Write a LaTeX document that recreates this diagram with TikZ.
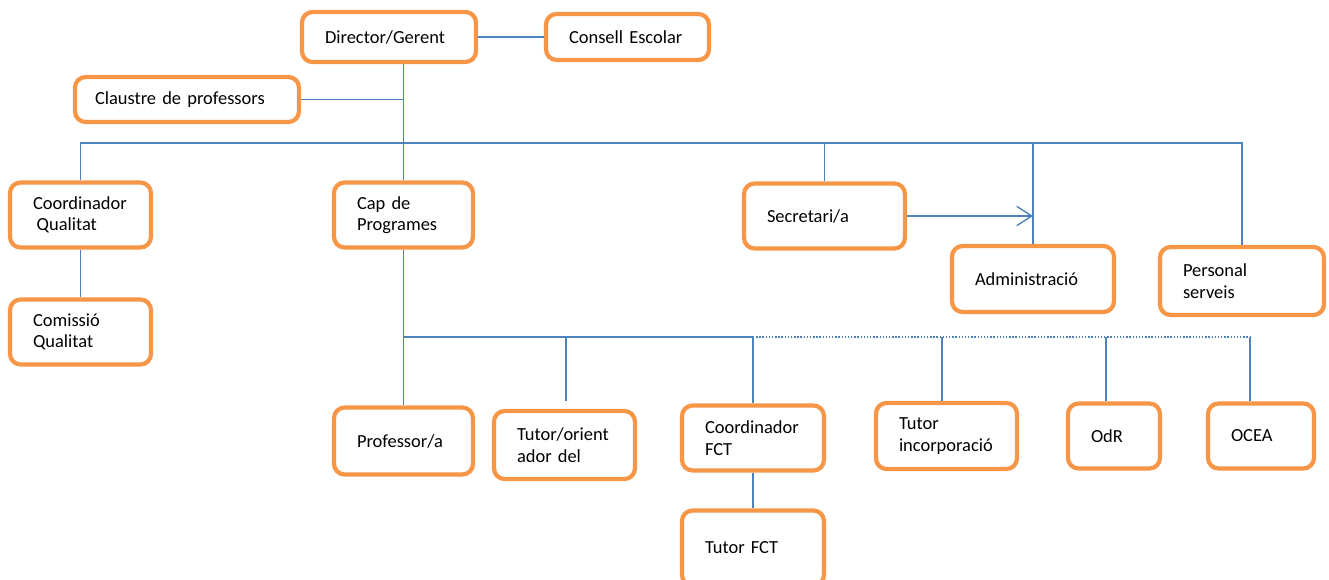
\documentclass[tikz,border=0pt]{standalone}
\usepackage{fontspec}
\setmainfont{Carlito}
\usepackage{tikz}
\usetikzlibrary{arrows.meta, calc}

\definecolor{boxorange}{RGB}{247,150,70}
\definecolor{linkblue}{RGB}{79,129,189}

\begin{document}
\begin{tikzpicture}[x=0.02cm, y=-0.02cm,
	unit/.style={draw=boxorange, line width=2.4pt, rounded corners=6pt, fill=white,
		align=left, inner xsep=0.46cm, inner ysep=0pt,
		font=\fontsize{10.5}{12.2}\selectfont},
	boxsize/.style 2 args={minimum width=#1, text width=#1-0.92cm, minimum height=#2},
	link/.style={draw=linkblue, line width=0.8pt}]
	%    page frame of the chart
	\useasboundingbox (0,0) rectangle (1329,580);
	
	% top level
	\node[unit, boxsize={3.48cm}{1.0cm}] (dir) at (389,37) {Director/Gerent};
	\node[unit, boxsize={3.26cm}{0.92cm}] (consell) at (627.5,37) {Consell Escolar};
	\node[unit, boxsize={4.48cm}{0.9cm}, inner xsep=0.4cm, text width=3.68cm] (claustre) at (187,99.5) {Claustre de professors};
	
	% second level
	\node[unit, boxsize={2.82cm}{1.3cm}] (coordq) at (80.5,215) {Coordinador\\\hspace*{0.2em}Qualitat};
	\node[unit, boxsize={2.82cm}{1.3cm}] (comq) at (80.5,332) {Comissió\\Qualitat};
	\node[unit, boxsize={2.78cm}{1.3cm}] (cap) at (403.5,215) {Cap de\\Programes};
	\node[unit, boxsize={3.22cm}{1.3cm}] (secr) at (824.5,216) {Secretari/a};
	\node[unit, boxsize={3.24cm}{1.32cm}] (admin) at (1033,279) {Administració};
	\node[unit, boxsize={3.28cm}{1.36cm}] (pers) at (1242,281) {Personal\\serveis};
	
	% programme staff
	\node[unit, boxsize={2.78cm}{1.34cm}] (prof) at (403.5,441) {Professor/a};
	\node[unit, boxsize={2.82cm}{1.36cm}] (tutor) at (564.5,445) {Tutor/orient\\ador del};
	\node[unit, boxsize={2.84cm}{1.3cm}] (cfct) at (753,438) {Coordinador\\FCT};
	\node[unit, boxsize={2.82cm}{1.32cm}] (tinc) at (946.5,436) {Tutor\\incorporació};
	\node[unit, boxsize={1.84cm}{1.3cm}] (odr) at (1114,436) {OdR};
	\node[unit, boxsize={2.12cm}{1.3cm}] (ocea) at (1261,436) {OCEA};
	\node[unit, boxsize={2.84cm}{1.5cm}] (tfct) at (753,548) {Tutor FCT};
	
	\coordinate (topbus) at (0,143);
	\coordinate (lowbus) at (0,337);
	
	% links from the director
	\draw[link] (dir.east) -- (consell.west);
	\draw[link] (dir.south -| cap.north) -- (cap.north);
	\draw[link] (claustre.east) -- (claustre.east -| cap.north);
	
	% upper bus
	\draw[link] (coordq.north) -- (coordq.north |- topbus) -- (pers.north |- topbus) -- (pers.north);
	\draw[link] (secr.north) -- (secr.north |- topbus);
	\draw[link] (admin.north) -- (admin.north |- topbus);
	\draw[link, -{Straight Barb[length=8.5pt, width=11pt]}] (secr.east) -- (secr.east -| admin.north);
	\draw[link] (coordq.south) -- (comq.north);
	
	% lower bus
	\draw[link] (cap.south) -- (cap.south |- lowbus) -- (cfct.north |- lowbus);
	\draw[link, densely dotted] (cfct.north |- lowbus) -- ($(ocea.north |- lowbus)+(-11,0)$);
	\draw[link] (prof.north) -- (prof.north |- lowbus);
	\draw[link] ([xshift=0.03cm, yshift=0.16cm]tutor.north) -- ([xshift=0.03cm]tutor.north |- lowbus);
	\draw[link] (cfct.north) -- (cfct.north |- lowbus);
	\draw[link] ([xshift=-0.09cm]tinc.north) -- ([xshift=-0.09cm]tinc.north |- lowbus);
	\draw[link] ([xshift=-0.16cm]odr.north) -- ([xshift=-0.16cm]odr.north |- lowbus);
	\draw[link] ([xshift=-0.22cm]ocea.north) -- ([xshift=-0.22cm]ocea.north |- lowbus);
	\draw[link] (cfct.south) -- (tfct.north);
	
	\end{tikzpicture}
\end{document}
